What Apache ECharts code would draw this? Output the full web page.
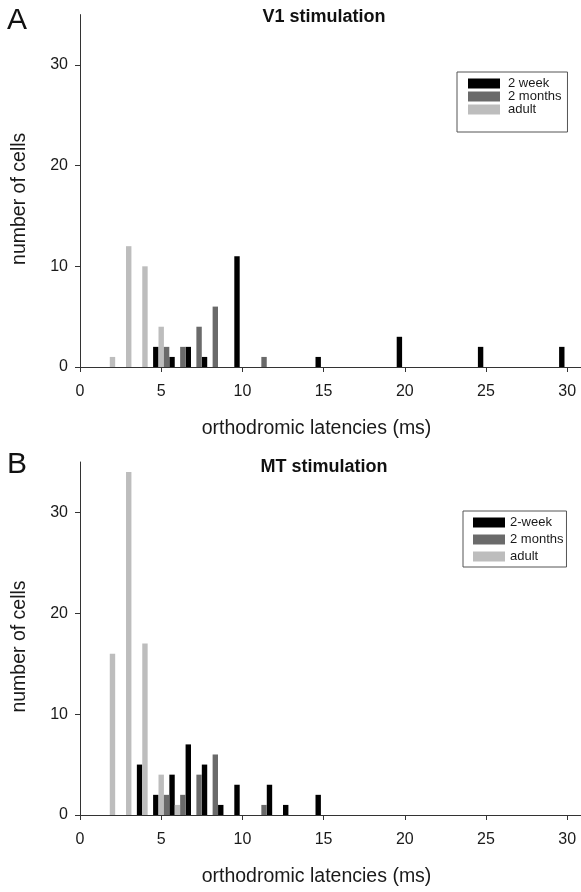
<!DOCTYPE html>
<html>
<head>
<meta charset="utf-8">
<script src="https://cdn.jsdelivr.net/npm/echarts@6/dist/echarts.min.js"></script>
<style>
html,body{margin:0;padding:0;background:#fff;}
#chart{width:581px;height:892px;}
</style>
</head>
<body>
<div id="chart"></div>
<script>
// ---------- data ----------
const xTicks = [0, 5, 10, 15, 20, 25, 30];
const yTicks = [0, 10, 20, 30];

// Panel A: V1 stimulation
const binsA_week2 = [5, 6, 7, 8, 10, 15, 20, 25, 30];
const countsA_week2 = [2, 1, 2, 1, 11, 1, 3, 2, 2];
const binsA_month2 = [5, 6, 7, 8, 11];
const countsA_month2 = [2, 2, 4, 6, 1];
const binsA_adult = [2, 3, 4, 5];
const countsA_adult = [1, 12, 10, 4];

// Panel B: MT stimulation
const binsB_week2 = [4, 5, 6, 7, 8, 9, 10, 12, 13, 15];
const countsB_week2 = [5, 2, 4, 7, 5, 1, 3, 3, 1, 2];
const binsB_month2 = [5, 6, 7, 8, 11];
const countsB_month2 = [2, 2, 4, 6, 1];
const binsB_adult = [2, 3, 4, 5, 6];
const countsB_adult = [16, 34, 17, 4, 1];

const namesA = ['2 week', '2 months', 'adult'];
const namesB = ['2-week', '2 months', 'adult'];

// ---------- chart ----------
const zip = (b, c) => b.map((v, i) => [v, c[i]]);
const FONT = 'Liberation Sans, Arial, Helvetica, sans-serif';
const C_WEEK = '#000000', C_MONTH = '#6a6a6a', C_ADULT = '#bdbdbd';
const BW = 5.4;

function xAxis(gridIndex) {
  return {
    type: 'value', gridIndex, min: 0, max: 30.85,
    name: 'orthodromic latencies (ms)', nameLocation: 'middle', nameGap: 52,
    nameTextStyle: { fontFamily: FONT, fontSize: 19.5, color: '#1a1a1a', padding: [0, 28, 0, 0] },
    axisLine: { show: true, lineStyle: { color: '#333', width: 1 } },
    axisTick: { show: true, length: 5, inside: false, customValues: xTicks, lineStyle: { color: '#333' } },
    axisLabel: { customValues: xTicks, margin: 17, fontFamily: FONT, fontSize: 16, color: '#1a1a1a' },
    splitLine: { show: false }
  };
}
function yAxis(gridIndex) {
  return {
    type: 'value', gridIndex, min: 0, max: 35,
    name: 'number of cells', nameLocation: 'middle', nameGap: 50,
    nameTextStyle: { fontFamily: FONT, fontSize: 19.5, color: '#1a1a1a', padding: [0, 16, 0, 0] },
    axisLine: { show: true, lineStyle: { color: '#333', width: 1 } },
    axisTick: { show: true, length: 5, inside: false, customValues: yTicks, lineStyle: { color: '#333' } },
    axisLabel: { customValues: yTicks, margin: 12, fontFamily: FONT, fontSize: 16, color: '#1a1a1a' },
    splitLine: { show: false }
  };
}
function bar(name, data, color, idx) {
  return {
    type: 'bar', name, data, xAxisIndex: idx, yAxisIndex: idx,
    barWidth: BW, barGap: '0%',
    itemStyle: { color }, emphasis: { disabled: true }, animation: false
  };
}

const chart = echarts.init(document.getElementById('chart'), null, { renderer: 'canvas' });
chart.setOption({
  backgroundColor: '#fff',
  animation: false,
  title: [
    { text: 'V1 stimulation', left: 324, top: 8, textAlign: 'center', padding: 0,
      textStyle: { fontFamily: FONT, fontSize: 18, fontWeight: 'bold', color: '#111' } },
    { text: 'MT stimulation', left: 324, top: 458, textAlign: 'center', padding: 0,
      textStyle: { fontFamily: FONT, fontSize: 18, fontWeight: 'bold', color: '#111' } },
    { text: 'A', left: 7, top: 6, padding: 0,
      textStyle: { fontFamily: FONT, fontSize: 30, fontWeight: 'normal', color: '#111' } },
    { text: 'B', left: 7, top: 450, padding: 0,
      textStyle: { fontFamily: FONT, fontSize: 30, fontWeight: 'normal', color: '#111' } }
  ],
  grid: [
    { left: 80, right: 0, top: 14.6, height: 352.4, containLabel: false },
    { left: 80, right: 0, top: 462, height: 353, containLabel: false }
  ],
  xAxis: [xAxis(0), xAxis(1)],
  yAxis: [yAxis(0), yAxis(1)],
  legend: [
    { data: namesA, orient: 'vertical', left: 457, top: 72,
      padding: [5, 6, 16, 11], itemGap: 0, itemWidth: 32, itemHeight: 10,
      borderColor: '#555', borderWidth: 1, selectedMode: false, icon: 'rect',
      textStyle: { fontFamily: FONT, fontSize: 13, lineHeight: 12.5, color: '#1a1a1a', padding: [0, 0, 0, 3] } },
    { data: namesB, orient: 'vertical', left: 463, top: 511,
      padding: [5, 3, 4, 10], itemGap: 4, itemWidth: 32, itemHeight: 10,
      borderColor: '#555', borderWidth: 1, selectedMode: false, icon: 'rect',
      textStyle: { fontFamily: FONT, fontSize: 13, color: '#1a1a1a', padding: [0, 0, 0, 0] } }
  ],
  series: [
    bar(namesA[0], zip(binsA_week2, countsA_week2), C_WEEK, 0),
    bar(namesA[2], zip(binsA_adult, countsA_adult), C_ADULT, 0),
    bar(namesA[1], zip(binsA_month2, countsA_month2), C_MONTH, 0),
    bar(namesB[0], zip(binsB_week2, countsB_week2), C_WEEK, 1),
    bar(namesB[2], zip(binsB_adult, countsB_adult), C_ADULT, 1),
    bar(namesB[1], zip(binsB_month2, countsB_month2), C_MONTH, 1)
  ]
});
</script>
</body>
</html>
